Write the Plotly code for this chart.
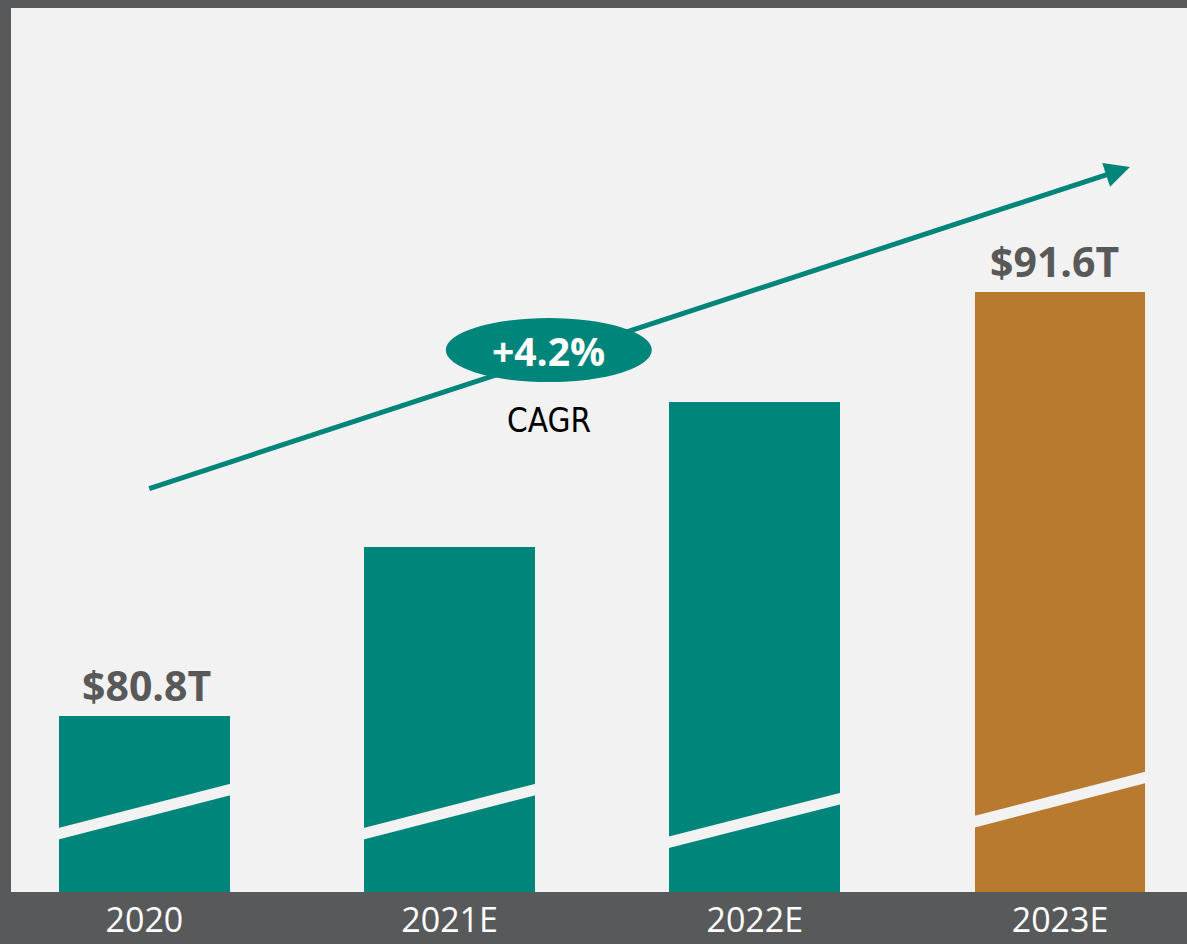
import plotly.graph_objects as go

# ---- data ----
categories = ["2020", "2021E", "2022E", "2023E"]
values = [80.8, 85.1, 88.8, 91.6]          # $T (2021E/2022E)
labels_shown = [True, False, False, True]
bar_colors = ["#00857a", "#00857a", "#00857a", "#b87a2f"]
cagr_text = "+4.2%"
cagr_label = "CAGR"
# axis-break bands (value units at left / right edge of each bar)
break_left = [77.80, 77.80, 77.58, 78.10]
break_right = [78.94, 78.94, 78.71, 79.25]

# ---- layout constants ----
TEAL = "#00857a"
BG = "#f2f2f2"
FRAME = "#58595b"
y_min, y_max = 76.32, 98.84
x_min, x_max = -0.437, 3.416
bar_w = 0.56
x_pos = list(range(len(categories)))

fig = go.Figure()
fig.add_trace(go.Bar(
    x=x_pos, y=values, width=bar_w,
    marker=dict(color=bar_colors, line=dict(width=0)),
    hoverinfo="skip", showlegend=False,
))

shapes = []
half = 0.147
for i, (yl, yr) in enumerate(zip(break_left, break_right)):
    xl = x_pos[i] - bar_w / 2 - 0.005
    xr = x_pos[i] + bar_w / 2 + 0.005
    path = (f"M {xl},{yl - half} L {xr},{yr - half} "
            f"L {xr},{yr + half} L {xl},{yl + half} Z")
    shapes.append(dict(type="path", path=path, xref="x", yref="y",
                       fillcolor=BG, line=dict(width=0), layer="above"))

# CAGR ellipse
ell_cx, ell_cy = 1.325, 90.125
shapes.append(dict(type="circle", xref="x", yref="y",
                   x0=ell_cx - 0.3375, x1=ell_cx + 0.3375,
                   y0=ell_cy - 0.815, y1=ell_cy + 0.815,
                   fillcolor=TEAL, line=dict(width=0), layer="above"))

annotations = []
# trend arrow
annotations.append(dict(
    x=3.229, y=94.79, ax=0.011, ay=86.585,
    xref="x", yref="y", axref="x", ayref="y",
    showarrow=True, arrowhead=2, arrowsize=1.0, arrowwidth=5,
    arrowcolor=TEAL, text="", standoff=0, startstandoff=0,
))
# value labels
label_xshift = [2, 0, 0, -6]
for i, v in enumerate(values):
    if labels_shown[i]:
        annotations.append(dict(
            x=x_pos[i], y=v, xref="x", yref="y", text=f"${v}T",
            showarrow=False, yanchor="middle", yshift=31, xshift=label_xshift[i],
            font=dict(family="Open Sans", size=41, color="#595959", weight="bold"),
        ))
annotations.append(dict(
    x=ell_cx, y=ell_cy, xref="x", yref="y", text=cagr_text, showarrow=False,
    font=dict(family="Open Sans", size=39, color="white", weight="bold"),
))
annotations.append(dict(
    x=ell_cx, y=88.34, xref="x", yref="y", text=cagr_label, showarrow=False,
    font=dict(family="DejaVu Sans Condensed, Liberation Sans Narrow, sans-serif",
              size=33, color="black"),
))

fig.update_layout(
    width=1187, height=944,
    margin=dict(l=11, r=0, t=8, b=52, autoexpand=False),
    paper_bgcolor=FRAME, plot_bgcolor=BG,
    shapes=shapes, annotations=annotations,
    bargap=0,
    xaxis=dict(range=[x_min, x_max], tickvals=x_pos, ticktext=categories,
               showgrid=False, zeroline=False, showline=False, ticks="",
               ticklabelstandoff=5, automargin=False,
               tickfont=dict(family="Open Sans", size=34, color="white"),
               fixedrange=True),
    yaxis=dict(range=[y_min, y_max], visible=False, showgrid=False,
               zeroline=False, fixedrange=True, automargin=False),
)

fig.write_html(
    "out.html",
    config=dict(displayModeBar=False),
    post_script="document.body.style.margin='0';document.body.style.overflow='hidden';",
)
